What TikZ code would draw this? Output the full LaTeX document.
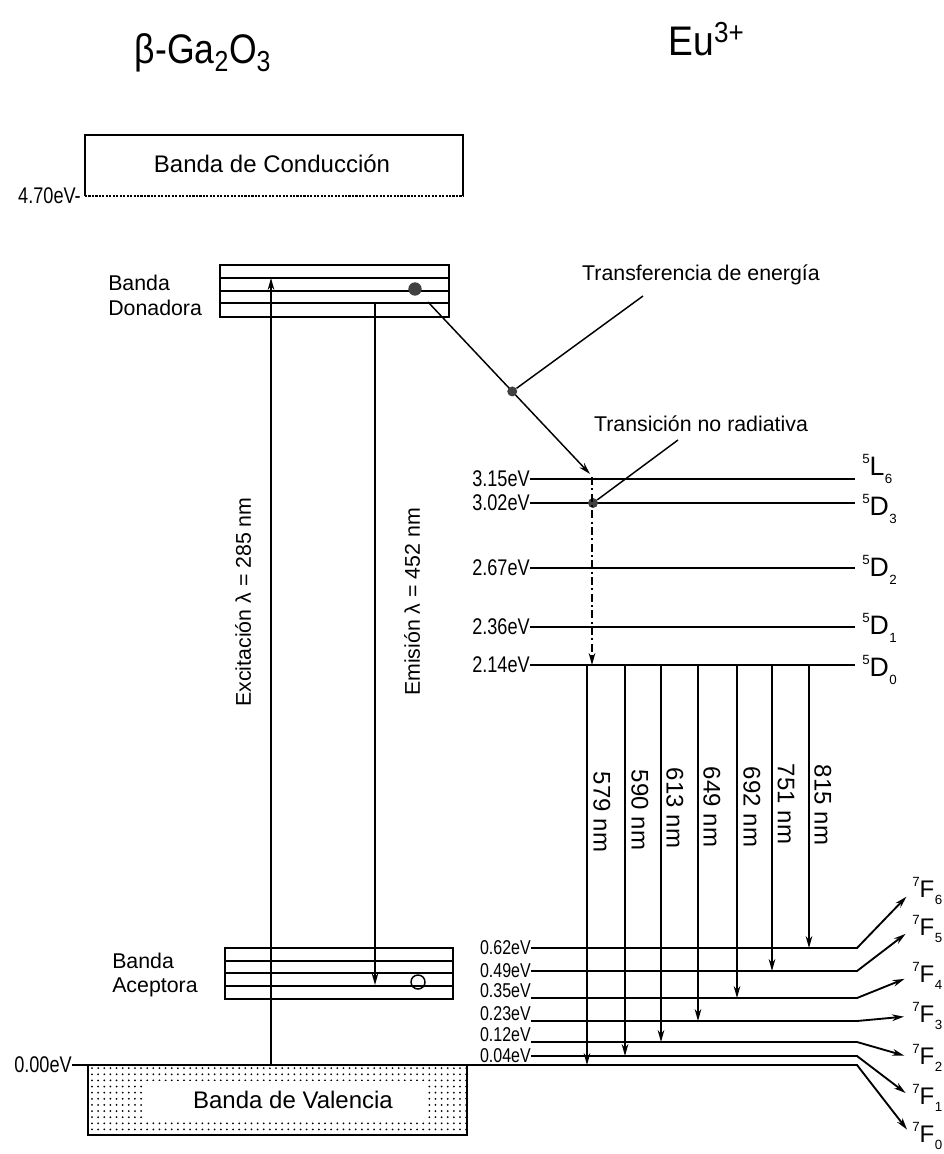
\documentclass[tikz,border=0pt]{standalone}
\usepackage{fontspec}
\setmainfont{Liberation Sans}
\usetikzlibrary{arrows.meta, patterns.meta}

\newcommand{\taille}[1]{\fontsize{#1}{#1}\selectfont}
\newcommand{\etroit}[1]{\scalebox{0.8}[1]{#1}}
\newcommand{\terme}[3]{\raisebox{0.45em}{\taille{10}#1}#2\kern0.3pt\raisebox{-0.32em}{\taille{10}#3}}

\begin{document}
\begin{tikzpicture}[x=0.75pt, y=-0.75pt, >={Stealth[length=9pt, width=5pt]}]

    % --- Paramètres ---
    \def\xG{530}     % début des niveaux Eu
    \def\xT{862}     % position des termes 5D
    \def\xC{857}     % coude des niveaux 7F
    \def\xF{912}     % position des termes 7F

    \useasboundingbox (0,0) rectangle (944,1154);

    % --- Styles ---
    \tikzstyle{bande} = [draw, line width=1.4pt]
    \tikzstyle{niveau} = [line width=1.4pt]
    \tikzstyle{fleche} = [->, line width=1.1pt]
    \tikzstyle{lab_ev} = [anchor=east, inner sep=0pt, font=\taille{17}]
    \tikzstyle{lab_evb} = [anchor=east, inner sep=0pt, font=\taille{15}]
    \tikzstyle{lab_evh} = [anchor=south east, inner sep=0pt, font=\taille{15}]
    \tikzstyle{lab_terme} = [anchor=base west, inner sep=0pt, font=\taille{20}]
    \tikzstyle{lab_nm} = [rotate=-90, inner sep=0pt, font=\taille{18}]
    \tikzstyle{texte} = [inner sep=0pt, font=\taille{16}]
    \tikzstyle{point} = [circle, fill=black!75, inner sep=0pt, minimum size=7.5pt]

    % --- Titres ---
    \node[font=\taille{31}, anchor=base] (titre_ga) at (203,63) {\scalebox{0.86}[1]{β-Ga\textsubscript{2}O\textsubscript{3}}};
    \node[font=\taille{31}, anchor=base west] (titre_eu) at (664,55) {\scalebox{0.9}[1]{Eu\textsuperscript{3+}}};

    % --- Bande de conduction ---
    \draw[bande] (85,196) -- (85,135) -- (463,135) -- (463,196);
    \draw[line width=1.6pt, densely dotted] (85,196) -- (463,196);
    \node[font=\taille{18}, anchor=base] (conduction) at (272,172) {Banda de Conducción};
    \node[lab_ev] (e470) at (81,196) {\etroit{4.70eV-}};

    % --- Bande donatrice ---
    \draw[bande] (220,265) rectangle (449,317);
    \draw[niveau] (220,278) -- (449,278);
    \draw[niveau] (220,291) -- (449,291);
    \draw[niveau] (220,303) -- (449,303);
    \node[texte, anchor=west, align=left, font=\fontsize{16}{18.75}\selectfont] (donadora) at (108,295) {Banda\\Donadora};
    \node[point, minimum size=10pt] (electron) at (415,289) {};

    % --- Bande acceptrice ---
    \draw[bande] (225,948) rectangle (453,999);
    \draw[niveau] (225,961) -- (453,961);
    \draw[niveau] (225,973) -- (453,973);
    \draw[niveau] (225,986) -- (453,986);
    \node[texte, anchor=west, align=left, font=\fontsize{16}{17.5}\selectfont] (aceptora) at (112,975) {Banda\\Aceptora};
    \node[circle, draw, line width=1.1pt, inner sep=0pt, minimum size=10.5pt] (trou) at (418,982) {};

    % --- Bande de valence ---
    \fill[pattern={Dots[distance=4.6pt, radius=0.75pt]}] (88,1065) rectangle (467,1135);
    \fill[white] (143,1081) rectangle (425,1119);
    \draw[bande] (88,1065) rectangle (467,1135);
    \node[font=\taille{18}, anchor=base] (valencia) at (293,1108) {Banda de Valencia};
    \node[lab_ev] (e000) at (72,1065) {\etroit{0.00eV}};

    % --- Excitation et émission ---
    \coordinate (exc_bas) at (271,1065);
    \coordinate (exc_haut) at (271,278);
    \draw[fleche] (exc_bas) -- (exc_haut);
    \node[texte, rotate=90] (excitacion) at (243,602) {Excitación λ = 285 nm};
    \coordinate (em_haut) at (375,303);
    \coordinate (em_bas) at (375,985);
    \draw[fleche] (em_haut) -- (em_bas);
    \node[texte, rotate=90] (emision) at (412,602) {Emisión λ = 452 nm};

    % --- Niveaux 5D de Eu ---
    \node[lab_ev] (e315) at (\xG,479) {\etroit{3.15eV}};
    \node[lab_ev] (e302) at (\xG,503) {\etroit{3.02eV}};
    \node[lab_ev] (e267) at (\xG,568) {\etroit{2.67eV}};
    \node[lab_ev] (e236) at (\xG,627) {\etroit{2.36eV}};
    \node[lab_ev] (e214) at (\xG,665) {\etroit{2.14eV}};
    \node[lab_terme] (L6) at (\xT,475) {\terme{5}{L}{6}};
    \node[lab_terme] (D3) at (\xT,515) {\terme{5}{D}{3}};
    \node[lab_terme] (D2) at (\xT,576) {\terme{5}{D}{2}};
    \node[lab_terme] (D1) at (\xT,634) {\terme{5}{D}{1}};
    \node[lab_terme] (D0) at (\xT,676) {\terme{5}{D}{0}};
    \draw[niveau, shorten >=5pt] (e315.east) -- (e315.east -| D3.west);
    \draw[niveau, shorten >=5pt] (e302.east) -- (e302.east -| D3.west);
    \draw[niveau, shorten >=5pt] (e267.east) -- (e267.east -| D2.west);
    \draw[niveau, shorten >=5pt] (e236.east) -- (e236.east -| D1.west);
    \draw[niveau, shorten >=5pt] (e214.east) -- (e214.east -| D0.west);

    % --- Niveaux 7F de Eu ---
    \node[lab_evb] (e062) at (531,948) {\etroit{0.62eV}};
    \node[lab_evb] (e049) at (531,971) {\etroit{0.49eV}};
    \node[lab_evh] (e035) at (531,998) {\etroit{0.35eV}};
    \node[lab_evh] (e023) at (531,1021) {\etroit{0.23eV}};
    \node[lab_evh] (e012) at (531,1042) {\etroit{0.12eV}};
    \node[lab_evb] (e004) at (531,1056) {\etroit{0.04eV}};
    \node[lab_terme, font=\taille{18}] (F6) at (\xF,897) {\terme{7}{F}{6}};
    \node[lab_terme, font=\taille{18}] (F5) at (\xF,935) {\terme{7}{F}{5}};
    \node[lab_terme, font=\taille{18}] (F4) at (\xF,982) {\terme{7}{F}{4}};
    \node[lab_terme, font=\taille{18}] (F3) at (\xF,1022) {\terme{7}{F}{3}};
    \node[lab_terme, font=\taille{18}] (F2) at (\xF,1064) {\terme{7}{F}{2}};
    \node[lab_terme, font=\taille{18}] (F1) at (\xF,1104) {\terme{7}{F}{1}};
    \node[lab_terme, font=\taille{18}] (F0) at (\xF,1142) {\terme{7}{F}{0}};
    \coordinate (c062) at (\xC,948);
    \coordinate (c049) at (\xC,971);
    \coordinate (c035) at (\xC,998);
    \coordinate (c023) at (\xC,1021);
    \coordinate (c012) at (\xC,1042);
    \coordinate (c004) at (\xC,1056);
    \coordinate (c000) at (\xC,1065);
    \draw[niveau, ->, shorten >=6pt] (e062.east) -- (c062) -- (F6.west);
    \draw[niveau, ->, shorten >=6pt] (e049.east) -- (c049) -- (F5.west);
    \draw[niveau, ->, shorten >=6pt] (e035.south east) -- (c035) -- (F4.west);
    \draw[niveau, ->, shorten >=6pt] (e023.south east) -- (c023) -- (F3.west);
    \draw[niveau, ->, shorten >=6pt] (e012.south east) -- (c012) -- (F2.west);
    \draw[niveau, ->, shorten >=6pt] (e004.east) -- (c004) -- (F1.west);
    \draw[niveau, ->, shorten >=6pt] (e000.east) -- (c000) -- (F0.west);

    % --- Transitions radiatives 5D0 -> 7FJ ---
    \coordinate (d579) at (587,665);
    \coordinate (d590) at (625,665);
    \coordinate (d613) at (661,665);
    \coordinate (d649) at (698,665);
    \coordinate (d692) at (737,665);
    \coordinate (d751) at (772,665);
    \coordinate (d815) at (809,665);
    \draw[fleche] (d579) -- (d579 |- c000);
    \draw[fleche] (d590) -- (d590 |- c004);
    \draw[fleche] (d613) -- (d613 |- c012);
    \draw[fleche] (d649) -- (d649 |- c023);
    \draw[fleche] (d692) -- (d692 |- c035);
    \draw[fleche] (d751) -- (d751 |- c049);
    \draw[fleche] (d815) -- (d815 |- c062);
    \node[lab_nm] (nm579) at (602,812) {579 nm};
    \node[lab_nm] (nm590) at (640,810) {590 nm};
    \node[lab_nm] (nm613) at (675,808) {613 nm};
    \node[lab_nm] (nm649) at (712,807) {649 nm};
    \node[lab_nm] (nm692) at (752,807) {692 nm};
    \node[lab_nm] (nm751) at (786,804) {751 nm};
    \node[lab_nm] (nm815) at (823,805) {815 nm};

    % --- Transfert d'énergie ---
    \coordinate (tr_dep) at (428,302);
    \coordinate (tr_arr) at (590,474);
    \draw[fleche] (tr_dep) -- (tr_arr) coordinate[pos=0.52] (tr_mil);
    \node[point] (pt_tr) at (tr_mil) {};
    \node[texte, anchor=base] (transf) at (701,280) {Transferencia de energía};
    \coordinate (transf_pied) at (643,296);
    \draw[line width=1.1pt] (pt_tr) -- (transf_pied);

    % --- Transition non radiative ---
    \node[texte, anchor=base] (noradiat) at (701,431) {Transición no radiativa};
    \coordinate (nr_pied) at (678,440);
    \node[point] (pt_nr) at (593,503) {};
    \draw[line width=1.1pt] (nr_pied) -- (pt_nr);
    \coordinate (nr_haut) at (592,477);
    \draw[fleche, dash pattern=on 6pt off 2.5pt on 1.5pt off 2.5pt] (nr_haut) -- (nr_haut |- e214.east);

\end{tikzpicture}
\end{document}
